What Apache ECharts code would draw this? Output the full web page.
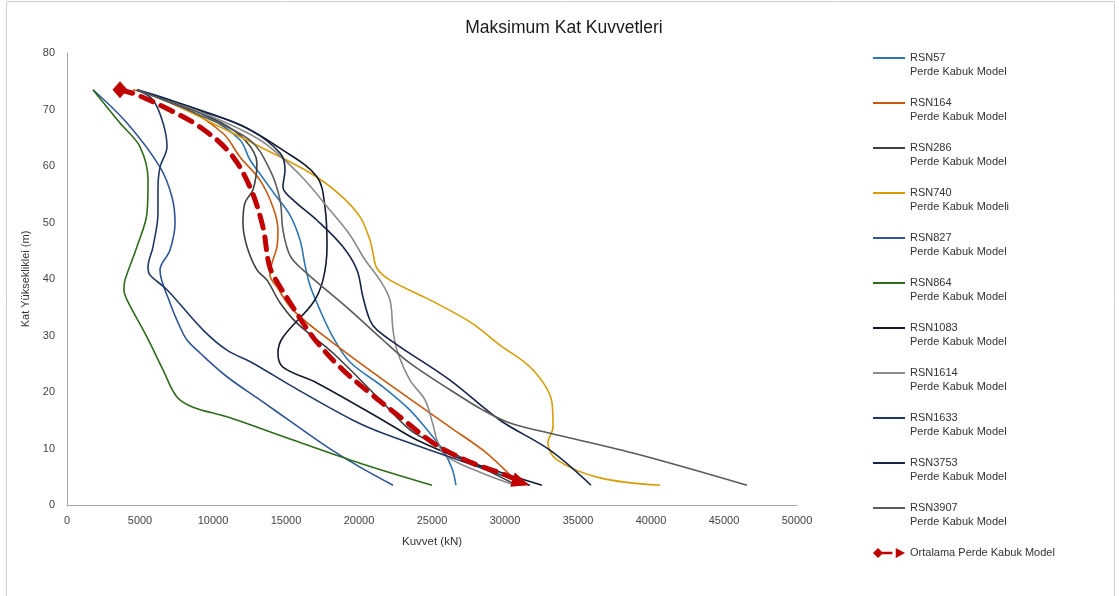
<!DOCTYPE html>
<html>
<head>
<meta charset="utf-8">
<script src="https://cdn.jsdelivr.net/npm/echarts@6/dist/echarts.min.js"></script>
<style>
html,body{margin:0;padding:0;background:#fff;}
#chart{width:1119px;height:596px;}
</style>
</head>
<body>
<div id="chart"></div>
<script>
// ---- data (kN, m) ----
const chartTitle = 'Maksimum Kat Kuvvetleri';
const xAxisName = 'Kuvvet (kN)';
const yAxisName = 'Kat Yüksekliklei (m)';
const seriesNames = ['RSN57','RSN164','RSN286','RSN740','RSN827','RSN864','RSN1083','RSN1614','RSN1633','RSN3753','RSN3907'];
const seriesSub = ['Perde Kabuk Model','Perde Kabuk Model','Perde Kabuk Model','Perde Kabuk Modeli','Perde Kabuk Model','Perde Kabuk Model','Perde Kabuk Model','Perde Kabuk Model','Perde Kabuk Model','Perde Kabuk Model','Perde Kabuk Model'];
const avgName = 'Ortalama Perde Kabuk Model';

const rsn57X = [4790,7050,9790,11850,12530,13360,14250,15270,15960,16300,16640,17330,18220,19380,21640,23490,24660,25750,26370,26640];
const rsn57Y = [73.5,71.7,68.5,64.6,61.1,58.1,54.9,51.3,46.9,42.5,38.9,34.5,29.7,25.3,20.9,16.8,13.3,9.7,6.5,3.5];

const rsn164X = [4520,7740,10680,11850,13220,14110,14450,14380,14040,13900,14380,15480,18220,22330,26230,28490,30000,31030];
const rsn164Y = [73.5,70.8,65.8,61.6,57.5,52.7,48.7,45.7,42.8,40.7,38.6,34.5,28.7,20.9,13.8,9.7,6.2,3.5];

const rsn286X = [4790,7740,10480,12190,13010,12740,12190,12050,12330,13010,13700,14590,15750,18220,21640,23490,25070,30820];
const rsn286Y = [73.5,70.8,67.8,64.6,60.5,55.8,53.5,49.9,45.7,41.6,39.8,35.8,32.2,26.9,18.1,13.3,11.0,3.5];

const rsn740X = [4790,7400,9790,13220,16640,18700,20070,20750,20960,21230,22120,24860,27600,29660,31920,33220,33290,32940,33560,36510,40610];
const rsn740Y = [73.5,70.8,67.8,63.4,58.8,54.9,51.0,46.9,44.6,41.9,39.8,36.3,32.4,28.3,23.9,18.1,13.8,11.0,8.0,4.8,3.5];

const rsn827X = [1780,4110,6370,7190,7400,7050,6370,7050,7740,8220,9110,10960,13220,15480,17810,20070,22330];
const rsn827Y = [73.5,67.6,59.8,54.5,49.9,45.1,41.6,35.8,31.5,29.2,26.9,22.7,18.6,14.5,10.3,6.7,3.5];

const rsn864X = [1780,3630,5000,5550,5480,4790,3970,3900,4110,5480,6580,7530,8630,10960,15480,20070,25000];
const rsn864Y = [73.5,67.6,63.4,57.5,51.7,45.7,39.8,38.1,36.3,29.7,23.9,19.1,17.3,15.6,11.5,7.4,3.5];

const rsn1083X = [4790,8420,11850,14790,17120,17670,17810,17530,16850,14790,14450,14790,17120,21640,23970,27600,32530];
const rsn1083Y = [73.5,70.3,67.3,62.8,58.1,52.7,45.7,39.8,35.8,29.7,26.9,24.4,21.6,15.0,11.5,7.6,3.5];

const rsn1614X = [4790,9110,13220,15960,18010,19380,20410,21440,22120,22330,22600,23490,24520,25070,25340,25890,28290,30680];
const rsn1614Y = [73.5,69.6,64.6,58.4,52.2,47.8,43.4,39.8,36.3,31.0,27.4,22.1,18.6,14.2,11.5,8.8,5.8,3.5];

const rsn1633X = [4790,5890,6580,6850,6370,6230,6230,5890,5550,5690,6850,9310,10960,12740,15480,19590,21640,26230,31710];
const rsn1633Y = [73.5,71.7,67.6,63.4,59.8,55.8,51.7,45.7,42.1,40.7,38.1,31.0,27.4,25.1,20.9,15.0,12.7,8.5,3.5];

const rsn3753X = [4790,9110,12530,14590,14930,14790,15480,17120,18900,19860,20270,20750,21230,22810,26230,29660,33080,35890];
const rsn3753Y = [73.5,69.9,66.4,62.3,59.3,56.3,54.0,50.4,45.7,41.6,36.8,32.7,31.0,28.0,22.1,15.0,9.7,3.5];

const rsn3907X = [4790,9110,12530,13900,14590,14790,15270,16160,19380,21640,23490,26230,28490,30340,33080,38770,46570];
const rsn3907Y = [73.5,69.0,64.6,59.3,54.0,48.7,44.2,41.6,34.5,29.2,25.1,20.4,16.8,14.5,12.7,9.2,3.5];

const avgX = [3630,4790,7050,9110,11160,12530,13420,13770,14040,15480,16850,18700,20750,22810,25070,27600,29860,31100];
const avgY = [73.5,72.6,69.9,66.9,62.3,56.3,49.2,43.4,41.1,35.0,29.7,24.4,19.8,15.6,11.0,7.6,5.5,4.0];

const xTicks = [0,5000,10000,15000,20000,25000,30000,35000,40000,45000,50000];
const yTicks = [0,10,20,30,40,50,60,70,80];

// ---- styles ----
const seriesX = [rsn57X,rsn164X,rsn286X,rsn740X,rsn827X,rsn864X,rsn1083X,rsn1614X,rsn1633X,rsn3753X,rsn3907X];
const seriesY = [rsn57Y,rsn164Y,rsn286Y,rsn740Y,rsn827Y,rsn864Y,rsn1083Y,rsn1614Y,rsn1633Y,rsn3753Y,rsn3907Y];
const colors = ['#2E75B6','#C55A11','#404040','#D79D06','#2F5597','#2F6B1C','#111A2B','#8A8A8A','#1F3864','#152447','#5A5A5A'];

const font = 'Liberation Sans, Arial, sans-serif';
const zip = (xs, ys) => xs.map((v, i) => [v, ys[i]]);

const series = seriesNames.map((n, i) => ({
  name: n,
  type: 'line',
  data: zip(seriesX[i], seriesY[i]),
  symbol: 'none',
  smooth: 0.35,
  lineStyle: { width: 1.6, color: colors[i] },
  itemStyle: { color: colors[i] },
  z: 2
}));

const avgData = zip(avgX, avgY).map((p, i, arr) => {
  if (i === 0) return { value: p, symbol: 'diamond', symbolSize: [15, 17] };
  if (i === arr.length - 1) return { value: p, symbol: 'triangle', symbolSize: [15, 18], symbolRotate: -108 };
  return { value: p, symbol: 'none' };
});
series.push({
  name: avgName,
  type: 'line',
  data: avgData,
  smooth: 0.35,
  showSymbol: true,
  lineStyle: { width: 5, color: '#C00000', type: [13, 9], cap: 'round' },
  itemStyle: { color: '#C00000' },
  z: 5
});

const lineIcon = 'path://M0,0 L32,0 L32,2 L0,2 Z';
const legendData = seriesNames.map(n => ({ name: n, icon: lineIcon }));
legendData.push({ name: avgName, icon: 'path://M0,6 L6,0 L12,6 L6,12 Z M11,4.5 L23,4.5 L23,7.5 L11,7.5 Z M27,0 L38,6 L27,12 Z' });

const chart = echarts.init(document.getElementById('chart'));
chart.setOption({
  animation: false,
  backgroundColor: '#fff',
  title: {
    text: chartTitle,
    left: 559, top: 14, textAlign: 'center',
    textStyle: { fontFamily: font, fontSize: 17.5, fontWeight: 'normal', color: '#1a1a1a' }
  },
  grid: { left: 67, right: 322, top: 53, bottom: 91, containLabel: false },
  xAxis: {
    type: 'value', min: 0, max: 50000, interval: 5000,
    name: xAxisName, nameLocation: 'middle', nameGap: 31,
    nameTextStyle: { fontFamily: font, fontSize: 11.5, color: '#333' },
    axisLine: { show: true, lineStyle: { color: '#A6A6A6', width: 1 } },
    axisTick: { show: false },
    splitLine: { show: false },
    axisLabel: { fontFamily: font, fontSize: 11, color: '#444', margin: 10,
      formatter: v => xTicks.includes(v) ? String(v) : '' }
  },
  yAxis: {
    type: 'value', min: 0, max: 80, interval: 10,
    name: yAxisName, nameLocation: 'middle', nameGap: 27, nameRotate: 90,
    nameTextStyle: { fontFamily: font, fontSize: 11, color: '#333' },
    axisLine: { show: true, lineStyle: { color: '#A6A6A6', width: 1 } },
    axisTick: { show: false },
    splitLine: { show: false },
    axisLabel: { fontFamily: font, fontSize: 11, color: '#444', margin: 12,
      formatter: v => yTicks.includes(v) ? String(v) : '' }
  },
  legend: {
    orient: 'vertical', left: 873, top: 37, padding: 0,
    itemWidth: 32, itemHeight: 12, itemGap: 3,
    data: legendData,
    textStyle: { fontFamily: font, fontSize: 11, color: '#333', lineHeight: 14 },
    formatter: name => {
      const i = seriesNames.indexOf(name);
      if (i < 0) return '\n' + name + '\n';
      return '\n' + name + '\n' + seriesSub[i];
    }
  },
  graphic: [{
    type: 'rect', silent: true, z: -1,
    shape: { x: 6.5, y: 1.5, width: 1108, height: 600 },
    style: { fill: 'none', stroke: '#D0D0D0', lineWidth: 1 }
  }],
  series: series
});
</script>
</body>
</html>
